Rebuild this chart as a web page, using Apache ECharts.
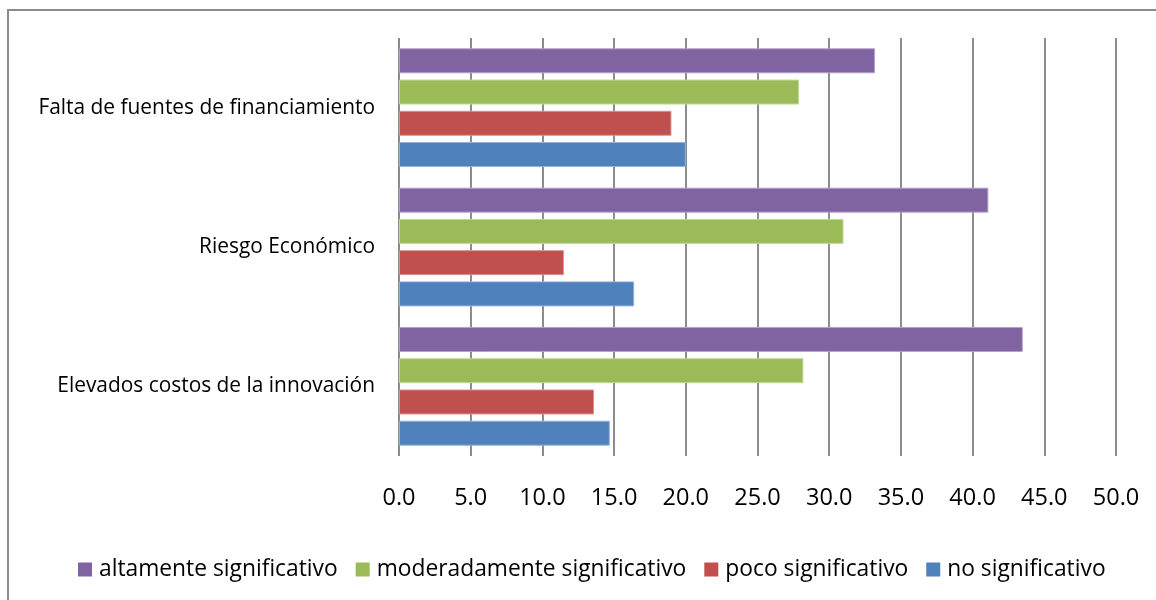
<!DOCTYPE html>
<html>
<head>
<meta charset="utf-8">
<script src="https://cdn.jsdelivr.net/npm/echarts@6/dist/echarts.min.js"></script>
<style>
  html, body { margin: 0; padding: 0; background: #fff; }
  #chart { width: 1156px; height: 600px; }
</style>
</head>
<body>
<div id="chart"></div>
<script>
// Obstacles to innovation, share of responses (%)
const categories = [
  'Elevados costos de la innovación',
  'Riesgo Económico',
  'Falta de fuentes de financiamiento'
];
const altamente = [43.5, 41.1, 33.2];
const moderadamente = [28.2, 31.0, 27.9];
const poco = [13.6, 11.5, 19.0];
const noSignificativo = [14.7, 16.4, 20.0];

const seriesNames = [
  'altamente significativo',
  'moderadamente significativo',
  'poco significativo',
  'no significativo'
];
const seriesValues = [altamente, moderadamente, poco, noSignificativo];
const seriesColors = ['#8064A2', '#9BBB59', '#C0504D', '#4F81BD'];
const seriesBorders = ['#B4A2CA', '#C3D99B', '#DA9492', '#94B2DA'];

const FONT = '"Open Sans", sans-serif';

const chart = echarts.init(document.getElementById('chart'), null, { renderer: 'canvas' });

chart.setOption({
  animation: false,
  backgroundColor: '#ffffff',
  graphic: [{
    type: 'rect',
    shape: { x: 8, y: 10, width: 1170, height: 620 },
    style: { fill: 'none', stroke: '#8a8a8a', lineWidth: 2 },
    silent: true
  }],
  grid: { left: 399, right: 40, top: 38, bottom: 144, containLabel: false },
  xAxis: {
    type: 'value',
    min: 0,
    max: 50,
    interval: 5,
    axisLine: { show: false },
    axisTick: { show: false },
    splitLine: { show: true, lineStyle: { color: '#8c8c8c', width: 2 } },
    axisLabel: {
      margin: 30,
      color: '#000',
      fontFamily: FONT,
      fontSize: 23.5,
      formatter: v => v.toFixed(1)
    }
  },
  yAxis: {
    type: 'category',
    data: categories,
    axisLine: { show: false },
    axisTick: { show: false },
    splitLine: { show: false },
    axisLabel: {
      margin: 24,
      color: '#000',
      fontFamily: FONT,
      fontSize: 20.9
    }
  },
  legend: {
    bottom: 14,
    left: 73,
    icon: 'rect',
    itemWidth: 14,
    itemHeight: 14,
    itemGap: 18,
    data: seriesNames,
    itemStyle: { borderWidth: 0 },
    textStyle: { color: '#000', fontFamily: FONT, fontSize: 22.8, padding: [0, 0, 0, 2] }
  },
  series: seriesNames.map((name, i) => ({
    name,
    type: 'bar',
    data: seriesValues[i],
    barWidth: 25,
    barGap: '25%',
    itemStyle: {
      color: seriesColors[i],
      borderColor: seriesBorders[i],
      borderWidth: 1
    }
  }))
});
</script>
</body>
</html>
